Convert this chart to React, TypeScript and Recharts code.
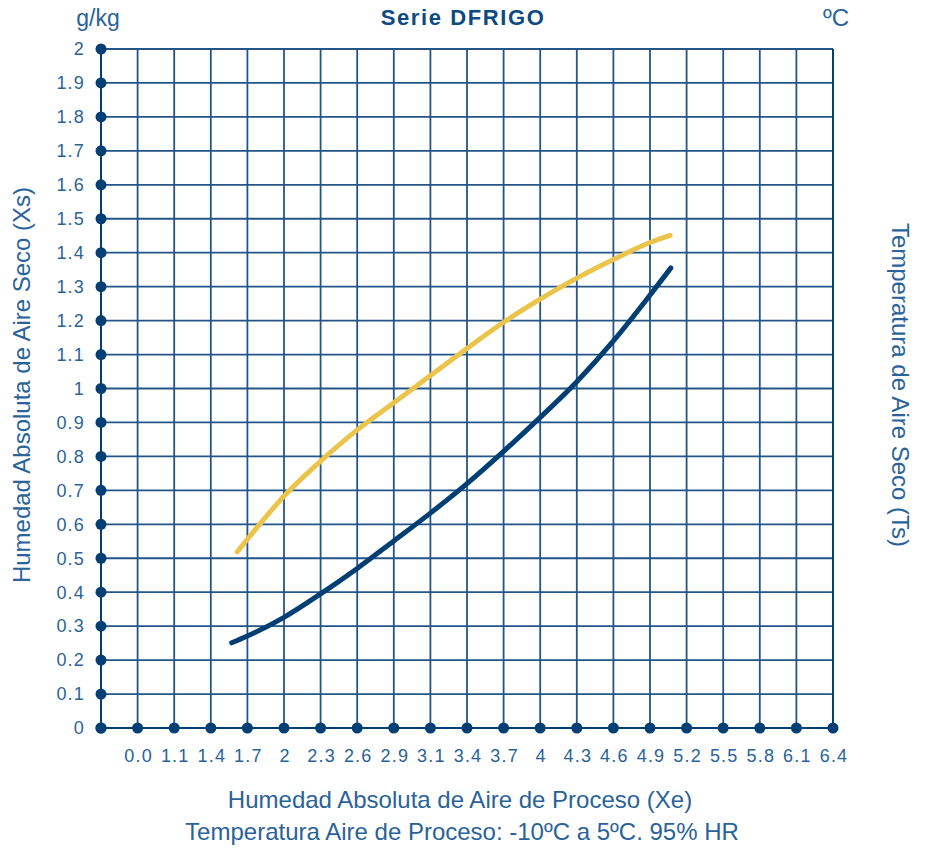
import { LineChart, Line, XAxis, YAxis, CartesianGrid } from 'recharts';

// x positions are grid columns 0..20, labelled with xLabels
const xLabels = ['', '0.0', '1.1', '1.4', '1.7', '2', '2.3', '2.6', '2.9', '3.1', '3.4', '3.7', '4', '4.3', '4.6', '4.9', '5.2', '5.5', '5.8', '6.1', '6.4'];
const xTicks = xLabels.map((_, i) => i);

const leftTicks = Array.from({ length: 21 }, (_, i) => i / 10);
// right scale: -16..24 °C lines up with 0..2 g/kg
const rightTicks = Array.from({ length: 21 }, (_, i) => -16 + i * 2);

const yellowX = [3.72, 4, 5, 6, 7, 8, 9, 10, 11, 12, 13, 14, 15, 15.55];
const yellowY = [0.519, 0.556, 0.683, 0.786, 0.878, 0.958, 1.038, 1.118, 1.195, 1.263, 1.325, 1.38, 1.43, 1.451];

const blueX = [3.57, 4, 5, 6, 7, 8, 9, 10, 11, 12, 13, 14, 15, 15.57];
const blueY = [0.251, 0.271, 0.326, 0.395, 0.47, 0.551, 0.633, 0.72, 0.815, 0.915, 1.02, 1.14, 1.275, 1.355];

const yellowData = yellowX.map((x, i) => ({ x, y: yellowY[i] }));
const blueData = blueX.map((x, i) => ({ x, y: blueY[i] }));

const AXIS = '#003f73';
const GRID = '#235587';
const TEXT = '#2a6399';
const FONT = '"Liberation Sans", Arial, sans-serif';
const tickStyle = { fontSize: 18, fontFamily: FONT, fill: TEXT, letterSpacing: 1.2 };

const LeftTick = (props: any) => {
    const { x, y, payload } = props;
    return (
        <g>
            <circle cx={x} cy={y} r={5.5} fill={AXIS} />
            <text x={x - 16} y={y} dy="0.35em" textAnchor="end" style={tickStyle}>{payload.value}</text>
        </g>
    );
};

const RightTick = (props: any) => {
    const { x, y, payload } = props;
    const v = payload.value;
    return (
        <g>
            <circle cx={x} cy={y} r={5.5} fill={AXIS} />
            {v >= -10 && v <= 20 && (
                <text x={x + 17} y={y} dy="0.35em" textAnchor="start" style={tickStyle}>{v}</text>
            )}
        </g>
    );
};

const BottomTick = (props: any) => {
    const { x, y, payload } = props;
    return (
        <g>
            <circle cx={x} cy={y} r={5.5} fill={AXIS} />
            <text x={x + 1} y={y + 28} dy="0.35em" textAnchor="middle" style={tickStyle}>{xLabels[payload.value]}</text>
        </g>
    );
};

export default function App() {
    return (
        <div style={{ position: 'absolute', left: 0, top: 0, width: 928, height: 848, background: '#fff', fontFamily: FONT, color: TEXT }}>
            <LineChart width={928} height={848} margin={{ top: 49, right: 0, bottom: 0, left: 0 }}>
                <CartesianGrid yAxisId="left" stroke={GRID} strokeWidth={1.8} />
                <XAxis type="number" dataKey="x" domain={[0, 20]} ticks={xTicks} interval={0} height={120}
                    axisLine={{ stroke: AXIS, strokeWidth: 2 }} tickLine={false} tickSize={0} tickMargin={0} tick={<BottomTick />} />
                <YAxis yAxisId="left" orientation="left" domain={[0, 2]} ticks={leftTicks} interval={0} width={101}
                    axisLine={{ stroke: AXIS, strokeWidth: 2 }} tickLine={false} tickSize={0} tickMargin={0} tick={<LeftTick />} />
                <YAxis yAxisId="right" orientation="right" domain={[-16, 24]} ticks={rightTicks} interval={0} width={95}
                    axisLine={{ stroke: AXIS, strokeWidth: 2 }} tickLine={false} tickSize={0} tickMargin={0} tick={<RightTick />} />
                <Line yAxisId="left" data={yellowData} dataKey="y" type="monotone" stroke="#ebc44b" strokeWidth={5} strokeLinecap="round" dot={false} isAnimationActive={false} />
                <Line yAxisId="left" data={blueData} dataKey="y" type="monotone" stroke="#003f73" strokeWidth={5} strokeLinecap="round" dot={false} isAnimationActive={false} />
            </LineChart>

            <div style={{ position: 'absolute', left: 0, width: 926, top: 5, textAlign: 'center', fontSize: 22, fontWeight: 'bold', letterSpacing: 1.6, color: '#0b4a82' }}>Serie DFRIGO</div>
            <div style={{ position: 'absolute', left: 98, top: 18, transform: 'translate(-50%, -50%)', fontSize: 23 }}>g/kg</div>
            <div style={{ position: 'absolute', left: 836, top: 18, transform: 'translate(-50%, -50%)', fontSize: 24 }}>ºC</div>

            <div style={{ position: 'absolute', left: 22, top: 385, transform: 'translate(-50%, -50%) rotate(-90deg)', whiteSpace: 'nowrap', fontSize: 24 }}>
                Humedad Absoluta de Aire Seco (Xs)
            </div>
            <div style={{ position: 'absolute', left: 900, top: 385, transform: 'translate(-50%, -50%) rotate(90deg)', whiteSpace: 'nowrap', fontSize: 24 }}>
                Temperatura de Aire Seco (Ts)
            </div>

            <div style={{ position: 'absolute', left: 460, top: 800, transform: 'translate(-50%, -50%)', whiteSpace: 'nowrap', fontSize: 24 }}>Humedad Absoluta de Aire de Proceso (Xe)</div>
            <div style={{ position: 'absolute', left: 462, top: 832, transform: 'translate(-50%, -50%)', whiteSpace: 'nowrap', fontSize: 24 }}>Temperatura Aire de Proceso: -10ºC a 5ºC. 95% HR</div>
        </div>
    );
}
